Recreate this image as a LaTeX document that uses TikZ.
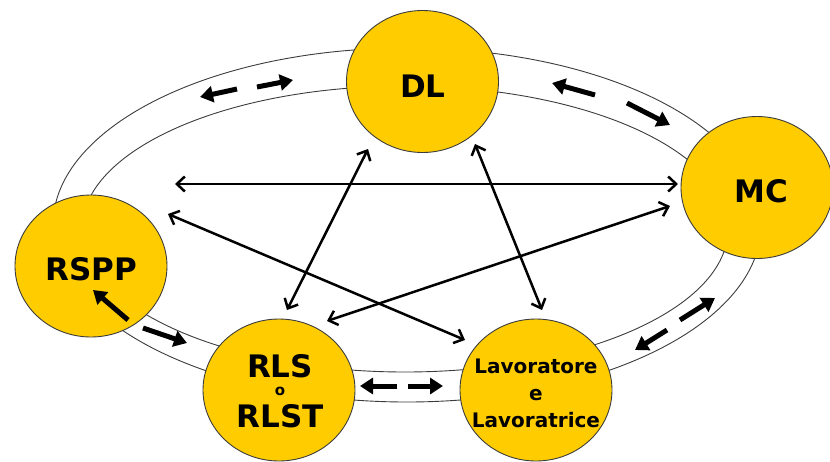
\documentclass[tikz,border=0pt]{standalone}
\usepackage{fontspec}
\setmainfont{DejaVu Sans}
\usetikzlibrary{arrows.meta,shapes.geometric}
\definecolor{gold}{HTML}{FFCC00}
\definecolor{rim}{HTML}{3C3C3C}
\tikzset{
  disc/.style={ellipse,draw=rim,line width=0.9pt,fill=gold,minimum width=152pt,minimum height=142pt,inner sep=0pt},
  ringline/.style={draw=rim,line width=0.9pt},
  link/.style={line width=2.5pt,{Straight Barb[length=8pt,width=15pt]}-{Straight Barb[length=8pt,width=15pt]}},
  flow/.style={line width=5pt,-{Triangle[length=13pt,width=16pt]}},
  big/.style={font=\fontsize{31}{31}\selectfont\bfseries,anchor=base,inner sep=0pt},
  mid/.style={font=\fontsize{20}{20}\selectfont\bfseries,anchor=base,inner sep=0pt},
  tiny/.style={font=\fontsize{15}{15}\selectfont\bfseries,anchor=base,inner sep=0pt}
}
\begin{document}
\begin{tikzpicture}[x=1pt,y=-1pt]
\useasboundingbox (0,0) rectangle (830,461);
% ring
\draw[ringline] (407,225) ellipse [x radius=354, y radius=177];
\draw[ringline] (405,229) ellipse [x radius=323, y radius=143];
% discs
\node[disc] (dl) at (422.5,81.5) {};
\node[disc] (mc) at (757,187.5) {};
\node[disc] (rspp) at (91,266) {};
\node[disc] (rls) at (279,390) {};
\node[disc] (lav) at (536,390) {};
% texts
\node[big] (dlt) at (423,97) {DL};
\node[big] (mct) at (761,202) {MC};
\node[big] (rsppt) at (91,280) {RSPP};
\node[big] (rlsa) at (280,377) {RLS};
\node[tiny] (rlso) at (280,395) {o};
\node[big] (rlsb) at (280,427) {RLST};
\node[mid] (lava) at (536,373) {Lavoratore};
\node[mid] (lavb) at (536,400) {e};
\node[mid] (lavc) at (536,427) {Lavoratrice};
% link end points
\coordinate (h1) at (175,184); \coordinate (h2) at (678,184);
\coordinate (d1) at (168,214); \coordinate (d2) at (465,340);
\coordinate (e1) at (368,149); \coordinate (e2) at (287,310);
\coordinate (f1) at (475,144); \coordinate (f2) at (542,310);
\coordinate (g1) at (670,206); \coordinate (g2) at (327,321);
\draw[link] (h1) -- (h2);
\draw[link] (d1) -- (d2);
\draw[link] (e1) -- (e2);
\draw[link] (f1) -- (f2);
\draw[link] (g1) -- (g2);
% flow arrows in ring
\coordinate (a1) at (237,89); \coordinate (a2) at (200,97);
\coordinate (a3) at (257,87); \coordinate (a4) at (293,80);
\coordinate (b1) at (595,95); \coordinate (b2) at (552,83);
\coordinate (b3) at (627,103); \coordinate (b4) at (670,125);
\coordinate (c1) at (680,320); \coordinate (c2) at (715,298);
\coordinate (c3) at (667,330); \coordinate (c4) at (635,350);
\coordinate (m1) at (397,386); \coordinate (m2) at (360,386);
\coordinate (m3) at (408,386); \coordinate (m4) at (443,386);
\coordinate (l1) at (143,328); \coordinate (l2) at (187,343);
\coordinate (r1) at (128,320); \coordinate (r2) at (93,290);
\draw[flow] (a1) -- (a2);
\draw[flow] (a3) -- (a4);
\draw[flow] (b1) -- (b2);
\draw[flow] (b3) -- (b4);
\draw[flow] (c1) -- (c2);
\draw[flow] (c3) -- (c4);
\draw[flow] (m1) -- (m2);
\draw[flow] (m3) -- (m4);
\draw[flow] (l1) -- (l2);
\draw[flow] (r1) -- (r2);
\end{tikzpicture}
\end{document}
